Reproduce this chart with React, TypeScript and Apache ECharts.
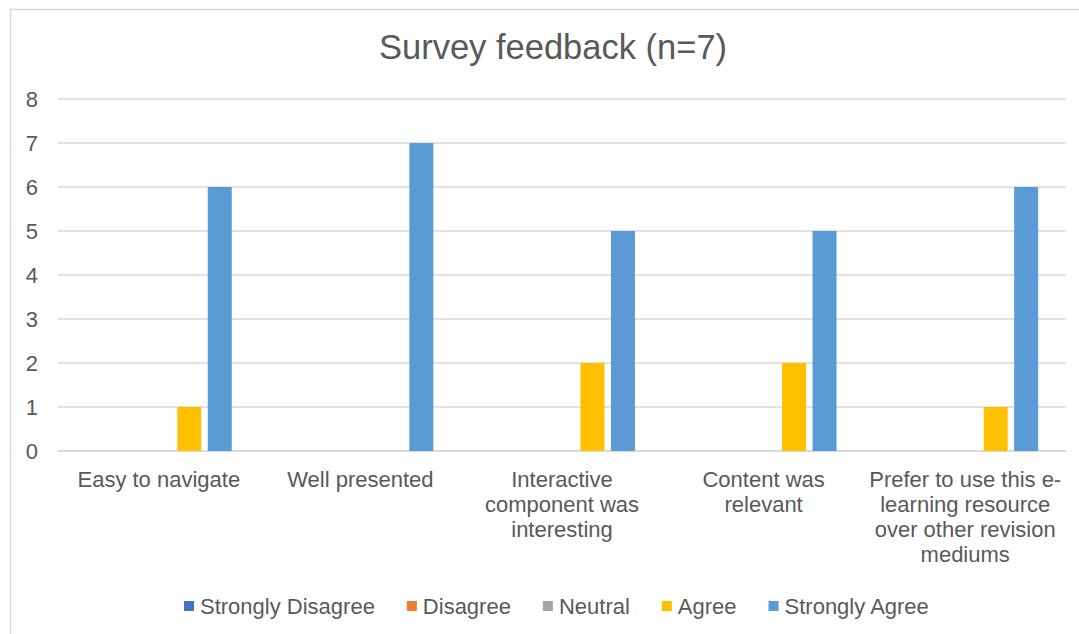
import React, { useEffect, useRef } from "react";
import * as echarts from "echarts";

const categories = [
  "Easy to navigate",
  "Well presented",
  "Interactive\ncomponent was\ninteresting",
  "Content was\nrelevant",
  "Prefer to use this e-\nlearning resource\nover other revision\nmediums",
];
const seriesNames = ["Strongly Disagree", "Disagree", "Neutral", "Agree", "Strongly Agree"];
const stronglyDisagree = [0, 0, 0, 0, 0];
const disagree = [0, 0, 0, 0, 0];
const neutral = [0, 0, 0, 0, 0];
const agree = [1, 0, 2, 2, 1];
const stronglyAgree = [6, 7, 5, 5, 6];
const colors = ["#4472C4", "#ED7D31", "#A5A5A5", "#FFC000", "#5B9BD5"];
const yTicks = [0, 1, 2, 3, 4, 5, 6, 7, 8];

const FONT = "'Liberation Sans', Arial, sans-serif";
const TXT = "#595959";

export default function App() {
  const ref = useRef<HTMLDivElement>(null);
  useEffect(() => {
    if (!ref.current) return;
    const chart = echarts.init(ref.current, null, { renderer: "svg" });
    const values = [stronglyDisagree, disagree, neutral, agree, stronglyAgree];
    chart.setOption({
      animation: false,
      backgroundColor: "#ffffff",
      textStyle: { fontFamily: FONT },
      title: {
        text: "Survey feedback (n=7)",
        left: 374,
        top: 24,
        textStyle: { fontFamily: FONT, fontSize: 34.5, fontWeight: "normal", color: TXT },
      },
      graphic: [
        {
          type: "rect",
          shape: { x: 10.5, y: 9.5, width: 1200, height: 800 },
          style: { fill: "none", stroke: "#d9d9d9", lineWidth: 1.5 },
          silent: true,
        },
      ],
      legend: {
        data: seriesNames,
        left: 179,
        top: 590,
        icon: "rect",
        itemWidth: 10,
        itemHeight: 10,
        itemGap: 32,
        textStyle: { fontFamily: FONT, fontSize: 22, color: TXT, padding: [0, 0, 0, 1] },
      },
      grid: { left: 58, right: 13, top: 99, bottom: 183 },
      xAxis: {
        type: "category",
        data: categories,
        axisLine: { lineStyle: { color: "#d9d9d9", width: 1.5 } },
        axisTick: { show: false },
        axisLabel: {
          interval: 0,
          fontFamily: FONT,
          fontSize: 22,
          color: TXT,
          lineHeight: 25,
          margin: 16,
          align: "center",
        },
      },
      yAxis: {
        type: "value",
        min: yTicks[0],
        max: yTicks[yTicks.length - 1],
        interval: 1,
        axisLine: { show: false },
        axisTick: { show: false },
        splitLine: { lineStyle: { color: "#d9d9d9", width: 1.5 } },
        axisLabel: { fontFamily: FONT, fontSize: 22, color: TXT, margin: 20 },
      },
      series: seriesNames.map((name, i) => ({
        name,
        type: "bar",
        data: values[i],
        barWidth: 24,
        barGap: "27%",
        itemStyle: { color: colors[i] },
      })),
    });
    return () => chart.dispose();
  }, []);
  return (
    <div
      ref={ref}
      style={{ position: "absolute", left: 0, top: 0, width: 1079, height: 634 }}
    />
  );
}
